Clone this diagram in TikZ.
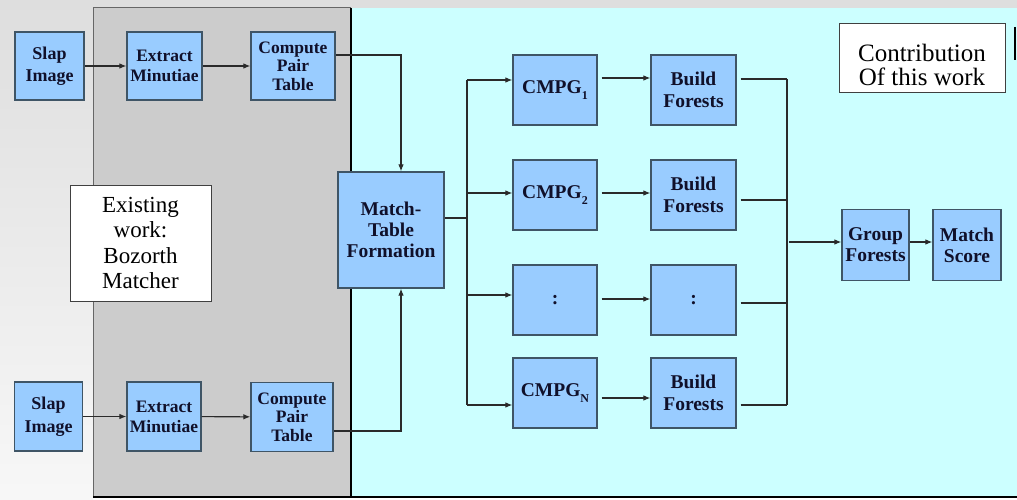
\documentclass[tikz,border=0pt]{standalone}
\usepackage{fontspec}
\setmainfont{Liberation Serif}
\usetikzlibrary{arrows.meta,calc}

\definecolor{boxfill}{HTML}{99CCFF}
\definecolor{boxline}{HTML}{3F5566}
\definecolor{txt}{HTML}{10102A}
\definecolor{panelgray}{HTML}{CCCCCC}
\definecolor{panelcyan}{HTML}{CCFFFF}
\definecolor{wirec}{HTML}{2A2A2A}
\definecolor{stripgray}{HTML}{DEDEDE}

\newcommand{\lowsub}[1]{\raisebox{-0.35em}{\fontsize{12}{12}\selectfont #1}}

\tikzset{
  blk/.style={draw=boxline, fill=boxfill, line width=1.2pt, inner sep=0pt,
    align=center, text=txt, font=\bfseries\fontsize{17.5}{20}\selectfont},
  slapblk/.style={blk, font=\bfseries\fontsize{18}{22.5}\selectfont},
  pairblk/.style={blk, font=\bfseries\fontsize{17.5}{18.5}\selectfont},
  bigblk/.style={blk, font=\bfseries\fontsize{19.5}{22.5}\selectfont},
  tableblk/.style={blk, font=\bfseries\fontsize{19.5}{21}\selectfont},
  note/.style={draw=black!75, fill=white, line width=1pt, inner sep=0pt,
    align=center, text=black, font=\fontsize{23}{25.5}\selectfont},
  wire/.style={draw=wirec, line width=1.1pt},
  arr/.style={wire, -{Latex[length=7pt,width=5.5pt]}},
  sz/.style 2 args={minimum width=#1pt, minimum height=#2pt},
}

\begin{document}
\begin{tikzpicture}[x=1pt,y=-1pt]
\useasboundingbox (0,0) rectangle (1017,500);

% page background and side strips
\fill[white] (0,0) rectangle (1017,500);
\shade[top color=stripgray, bottom color=white!97!black] (0,0) rectangle (93,500);
\fill[stripgray] (0,0) rectangle (1017,8);

% existing-work panel (grey) and contribution panel (cyan)
\fill[panelgray] (93,8) rectangle (351,497);
\draw[black!60, line width=1pt] (93,497) -- (93,8) -- (351,8);
\fill[panelcyan] (351,8) rectangle (1017,497);
\draw[black, line width=2pt] (351,8) -- (351,497);
\draw[black, line width=1.4pt] (93,497) -- (1017,497);

% panel captions
\node[note, sz={141}{116}] (exist) at (140.5,243) {Existing\\work:\\Bozorth\\Matcher};
\node[note, sz={166}{69},
  label={[yshift=-6pt, align=center, font=\fontsize{25}{24}\selectfont]center:Contribution\\Of this work}]
  (contrib) at (922,58.5) {};
\coordinate (edgeA) at (1015,27);
\coordinate (edgeB) at (1015,60);
\draw[black, line width=1.4pt] (edgeA) -- (edgeB);

% upper slap pipeline
\node[slapblk, sz={69}{68}] (slap1) at (49.5,66) {Slap\\Image};
\node[blk, sz={75}{68}] (ext1) at (164.5,66) {Extract\\Minutiae};
\node[pairblk, sz={84}{68}] (cpt1) at (293,66) {Compute\\Pair\\Table};

% lower slap pipeline
\node[slapblk, sz={68}{69}] (slap2) at (48.5,416.5) {Slap\\Image};
\node[blk, sz={74}{69}] (ext2) at (164,416.5) {Extract\\Minutiae};
\node[pairblk, sz={82}{69}] (cpt2) at (292,417) {Compute\\Pair\\Table};

% match table
\node[tableblk, sz={106}{116}] (mtf) at (391,230) {Match-\\Table\\Formation};

% CMPG branches
\node[bigblk, sz={84}{70}] (cmpg1) at (555,90) {CMPG\lowsub{1}};
\node[bigblk, sz={85}{70}] (bf1) at (693.5,90) {Build\\Forests};
\node[bigblk, sz={84}{70}] (cmpg2) at (555,195) {CMPG\lowsub{2}};
\node[bigblk, sz={85}{70}] (bf2) at (693.5,195) {Build\\Forests};
\node[bigblk, sz={84}{70}] (cmpg3) at (555,300) {:};
\node[bigblk, sz={85}{70}] (bf3) at (693.5,300) {:};
\node[bigblk, sz={84}{70}] (cmpgN) at (555,393) {CMPG\lowsub{N}};
\node[bigblk, sz={85}{70}] (bfN) at (693.5,393) {Build\\Forests};

% final stage
\node[tableblk, sz={67}{71}] (grp) at (875.5,245) {Group\\Forests};
\node[tableblk, sz={68}{71}] (score) at (967,245) {Match\\Score};

% feature extraction connectors
\draw[arr] (slap1) -- (ext1);
\draw[arr] (ext1) -- (cpt1);
\draw[arr] (slap2) -- (ext2);
\draw[arr] (ext2) -- (cpt2);
\draw[arr] ([yshift=11pt]cpt1.east) -| ([xshift=10pt]mtf.north);
\draw[arr] ([yshift=-14pt]cpt2.east) -| ([xshift=10pt]mtf.south);

% fan-out bus to the CMPG stages
\coordinate (busT) at (467,218);
\coordinate (bus1) at (467,80);
\coordinate (bus2) at (467,193);
\coordinate (bus3) at (467,295);
\coordinate (busN) at (467,405);
\draw[wire] ([yshift=12pt]mtf.east) -- (busT);
\draw[wire] (bus1) -- (busN);
\draw[arr] (bus1) -- (bus1 -| cmpg1.west);
\draw[arr] (bus2) -- (bus2 -| cmpg2.west);
\draw[arr] (bus3) -- (bus3 -| cmpg3.west);
\draw[arr] (busN) -- (busN -| cmpgN.west);

% CMPG to forest builders
\coordinate (row1) at (0,78);
\coordinate (row2) at (0,193);
\coordinate (row3) at (0,299);
\coordinate (rowN) at (0,398);
\draw[arr, shorten <=4pt] (cmpg1.east |- row1) -- (bf1.west |- row1);
\draw[arr, shorten <=4pt] (cmpg2.east |- row2) -- (bf2.west |- row2);
\draw[arr, shorten <=4pt] (cmpg3.east |- row3) -- (bf3.west |- row3);
\draw[arr, shorten <=4pt] (cmpgN.east |- rowN) -- (bfN.west |- rowN);

% fan-in bus to grouping
\coordinate (out1) at (787,79);
\coordinate (out2) at (787,200);
\coordinate (out3) at (787,303);
\coordinate (outN) at (787,405);
\coordinate (outM) at (789,242);
\draw[wire, shorten <=4pt] (bf1.east |- out1) -- (out1);
\draw[wire, shorten <=4pt] (bf2.east |- out2) -- (out2);
\draw[wire, shorten <=4pt] (bf3.east |- out3) -- (out3);
\draw[wire, shorten <=4pt] (bfN.east |- outN) -- (outN);
\draw[wire] (out1) -- (outN);
\draw[arr] (outM) -- (outM -| grp.west);
\draw[arr] (grp.east |- outM) -- (score.west |- outM);
\end{tikzpicture}
\end{document}
